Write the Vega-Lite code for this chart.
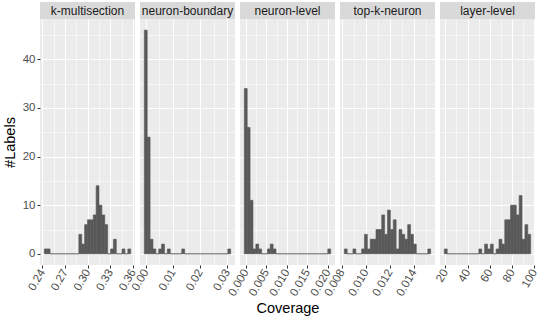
{
  "$schema": "https://vega.github.io/schema/vega-lite/v6.json",
  "padding": {"left": 2, "top": 2, "right": 1, "bottom": 2},
  "datasets": {
    "bins": [
      {"p":"k-multisection","a":0.2426,"b":0.24641,"n":1},
      {"p":"k-multisection","a":0.24641,"b":0.25021,"n":1},
      {"p":"k-multisection","a":0.25021,"b":0.25402,"n":0},
      {"p":"k-multisection","a":0.25402,"b":0.25783,"n":0},
      {"p":"k-multisection","a":0.25783,"b":0.26163,"n":0},
      {"p":"k-multisection","a":0.26163,"b":0.26544,"n":0},
      {"p":"k-multisection","a":0.26544,"b":0.26925,"n":0},
      {"p":"k-multisection","a":0.26925,"b":0.27305,"n":0},
      {"p":"k-multisection","a":0.27305,"b":0.27686,"n":0},
      {"p":"k-multisection","a":0.27686,"b":0.28067,"n":0},
      {"p":"k-multisection","a":0.28067,"b":0.28447,"n":0},
      {"p":"k-multisection","a":0.28447,"b":0.28828,"n":0},
      {"p":"k-multisection","a":0.28828,"b":0.29209,"n":4},
      {"p":"k-multisection","a":0.29209,"b":0.29589,"n":2},
      {"p":"k-multisection","a":0.29589,"b":0.2997,"n":6},
      {"p":"k-multisection","a":0.2997,"b":0.30351,"n":7},
      {"p":"k-multisection","a":0.30351,"b":0.30731,"n":7},
      {"p":"k-multisection","a":0.30731,"b":0.31112,"n":8},
      {"p":"k-multisection","a":0.31112,"b":0.31493,"n":14},
      {"p":"k-multisection","a":0.31493,"b":0.31873,"n":10},
      {"p":"k-multisection","a":0.31873,"b":0.32254,"n":8},
      {"p":"k-multisection","a":0.32254,"b":0.32635,"n":6},
      {"p":"k-multisection","a":0.32635,"b":0.33015,"n":0},
      {"p":"k-multisection","a":0.33015,"b":0.33396,"n":1},
      {"p":"k-multisection","a":0.33396,"b":0.33777,"n":3},
      {"p":"k-multisection","a":0.33777,"b":0.34157,"n":0},
      {"p":"k-multisection","a":0.34157,"b":0.34538,"n":0},
      {"p":"k-multisection","a":0.34538,"b":0.34919,"n":1},
      {"p":"k-multisection","a":0.34919,"b":0.35299,"n":0},
      {"p":"k-multisection","a":0.35299,"b":0.3568,"n":1},

      {"p":"neuron-boundary","a":-0.00053,"b":0.000529,"n":46},
      {"p":"neuron-boundary","a":0.000529,"b":0.001588,"n":24},
      {"p":"neuron-boundary","a":0.001588,"b":0.002647,"n":3},
      {"p":"neuron-boundary","a":0.002647,"b":0.003706,"n":1},
      {"p":"neuron-boundary","a":0.003706,"b":0.004765,"n":0},
      {"p":"neuron-boundary","a":0.004765,"b":0.005824,"n":1},
      {"p":"neuron-boundary","a":0.005824,"b":0.006883,"n":2},
      {"p":"neuron-boundary","a":0.006883,"b":0.007942,"n":0},
      {"p":"neuron-boundary","a":0.007942,"b":0.009001,"n":1},
      {"p":"neuron-boundary","a":0.009001,"b":0.01006,"n":0},
      {"p":"neuron-boundary","a":0.01006,"b":0.011119,"n":0},
      {"p":"neuron-boundary","a":0.011119,"b":0.012178,"n":0},
      {"p":"neuron-boundary","a":0.012178,"b":0.013237,"n":0},
      {"p":"neuron-boundary","a":0.013237,"b":0.014296,"n":1},
      {"p":"neuron-boundary","a":0.014296,"b":0.015355,"n":0},
      {"p":"neuron-boundary","a":0.015355,"b":0.016414,"n":0},
      {"p":"neuron-boundary","a":0.016414,"b":0.017473,"n":0},
      {"p":"neuron-boundary","a":0.017473,"b":0.018532,"n":0},
      {"p":"neuron-boundary","a":0.018532,"b":0.019591,"n":0},
      {"p":"neuron-boundary","a":0.019591,"b":0.02065,"n":0},
      {"p":"neuron-boundary","a":0.02065,"b":0.021709,"n":0},
      {"p":"neuron-boundary","a":0.021709,"b":0.022768,"n":0},
      {"p":"neuron-boundary","a":0.022768,"b":0.023827,"n":0},
      {"p":"neuron-boundary","a":0.023827,"b":0.024886,"n":0},
      {"p":"neuron-boundary","a":0.024886,"b":0.025945,"n":0},
      {"p":"neuron-boundary","a":0.025945,"b":0.027004,"n":0},
      {"p":"neuron-boundary","a":0.027004,"b":0.028063,"n":0},
      {"p":"neuron-boundary","a":0.028063,"b":0.029122,"n":0},
      {"p":"neuron-boundary","a":0.029122,"b":0.030181,"n":0},
      {"p":"neuron-boundary","a":0.030181,"b":0.03124,"n":1},

      {"p":"neuron-level","a":-0.000351,"b":0.000351,"n":34},
      {"p":"neuron-level","a":0.000351,"b":0.001053,"n":26},
      {"p":"neuron-level","a":0.001053,"b":0.001755,"n":11},
      {"p":"neuron-level","a":0.001755,"b":0.002457,"n":1},
      {"p":"neuron-level","a":0.002457,"b":0.003159,"n":2},
      {"p":"neuron-level","a":0.003159,"b":0.003861,"n":1},
      {"p":"neuron-level","a":0.003861,"b":0.004563,"n":0},
      {"p":"neuron-level","a":0.004563,"b":0.005265,"n":0},
      {"p":"neuron-level","a":0.005265,"b":0.005967,"n":1},
      {"p":"neuron-level","a":0.005967,"b":0.006669,"n":2},
      {"p":"neuron-level","a":0.006669,"b":0.007371,"n":1},
      {"p":"neuron-level","a":0.007371,"b":0.008073,"n":0},
      {"p":"neuron-level","a":0.008073,"b":0.008775,"n":0},
      {"p":"neuron-level","a":0.008775,"b":0.009477,"n":0},
      {"p":"neuron-level","a":0.009477,"b":0.010179,"n":0},
      {"p":"neuron-level","a":0.010179,"b":0.010881,"n":0},
      {"p":"neuron-level","a":0.010881,"b":0.011583,"n":0},
      {"p":"neuron-level","a":0.011583,"b":0.012285,"n":0},
      {"p":"neuron-level","a":0.012285,"b":0.012987,"n":0},
      {"p":"neuron-level","a":0.012987,"b":0.013689,"n":0},
      {"p":"neuron-level","a":0.013689,"b":0.014391,"n":0},
      {"p":"neuron-level","a":0.014391,"b":0.015093,"n":0},
      {"p":"neuron-level","a":0.015093,"b":0.015795,"n":0},
      {"p":"neuron-level","a":0.015795,"b":0.016497,"n":0},
      {"p":"neuron-level","a":0.016497,"b":0.017199,"n":0},
      {"p":"neuron-level","a":0.017199,"b":0.017901,"n":0},
      {"p":"neuron-level","a":0.017901,"b":0.018603,"n":0},
      {"p":"neuron-level","a":0.018603,"b":0.019305,"n":0},
      {"p":"neuron-level","a":0.019305,"b":0.020007,"n":0},
      {"p":"neuron-level","a":0.020007,"b":0.020709,"n":1},

      {"p":"top-k-neuron","a":0.008215,"b":0.0084545,"n":1},
      {"p":"top-k-neuron","a":0.0084545,"b":0.008694,"n":0},
      {"p":"top-k-neuron","a":0.008694,"b":0.0089335,"n":0},
      {"p":"top-k-neuron","a":0.0089335,"b":0.009173,"n":1},
      {"p":"top-k-neuron","a":0.009173,"b":0.0094125,"n":0},
      {"p":"top-k-neuron","a":0.0094125,"b":0.009652,"n":0},
      {"p":"top-k-neuron","a":0.009652,"b":0.0098915,"n":1},
      {"p":"top-k-neuron","a":0.0098915,"b":0.010131,"n":4},
      {"p":"top-k-neuron","a":0.010131,"b":0.0103705,"n":1},
      {"p":"top-k-neuron","a":0.0103705,"b":0.01061,"n":3},
      {"p":"top-k-neuron","a":0.01061,"b":0.0108495,"n":3},
      {"p":"top-k-neuron","a":0.0108495,"b":0.011089,"n":5},
      {"p":"top-k-neuron","a":0.011089,"b":0.0113285,"n":5},
      {"p":"top-k-neuron","a":0.0113285,"b":0.011568,"n":8},
      {"p":"top-k-neuron","a":0.011568,"b":0.0118075,"n":4},
      {"p":"top-k-neuron","a":0.0118075,"b":0.012047,"n":9},
      {"p":"top-k-neuron","a":0.012047,"b":0.0122865,"n":5},
      {"p":"top-k-neuron","a":0.0122865,"b":0.012526,"n":7},
      {"p":"top-k-neuron","a":0.012526,"b":0.0127655,"n":1},
      {"p":"top-k-neuron","a":0.0127655,"b":0.013005,"n":5},
      {"p":"top-k-neuron","a":0.013005,"b":0.0132445,"n":4},
      {"p":"top-k-neuron","a":0.0132445,"b":0.013484,"n":3},
      {"p":"top-k-neuron","a":0.013484,"b":0.0137235,"n":6},
      {"p":"top-k-neuron","a":0.0137235,"b":0.013963,"n":4},
      {"p":"top-k-neuron","a":0.013963,"b":0.0142025,"n":2},
      {"p":"top-k-neuron","a":0.0142025,"b":0.014442,"n":0},
      {"p":"top-k-neuron","a":0.014442,"b":0.0146815,"n":0},
      {"p":"top-k-neuron","a":0.0146815,"b":0.014921,"n":0},
      {"p":"top-k-neuron","a":0.014921,"b":0.0151605,"n":0},
      {"p":"top-k-neuron","a":0.0151605,"b":0.0154,"n":1},

      {"p":"layer-level","a":19.12,"b":21.707,"n":1},
      {"p":"layer-level","a":21.707,"b":24.293,"n":0},
      {"p":"layer-level","a":24.293,"b":26.88,"n":0},
      {"p":"layer-level","a":26.88,"b":29.467,"n":0},
      {"p":"layer-level","a":29.467,"b":32.053,"n":0},
      {"p":"layer-level","a":32.053,"b":34.64,"n":0},
      {"p":"layer-level","a":34.64,"b":37.227,"n":0},
      {"p":"layer-level","a":37.227,"b":39.813,"n":0},
      {"p":"layer-level","a":39.813,"b":42.4,"n":0},
      {"p":"layer-level","a":42.4,"b":44.987,"n":0},
      {"p":"layer-level","a":44.987,"b":47.573,"n":0},
      {"p":"layer-level","a":47.573,"b":50.16,"n":0},
      {"p":"layer-level","a":50.16,"b":52.747,"n":1},
      {"p":"layer-level","a":52.747,"b":55.333,"n":0},
      {"p":"layer-level","a":55.333,"b":57.92,"n":2},
      {"p":"layer-level","a":57.92,"b":60.507,"n":1},
      {"p":"layer-level","a":60.507,"b":63.093,"n":2},
      {"p":"layer-level","a":63.093,"b":65.68,"n":0},
      {"p":"layer-level","a":65.68,"b":68.267,"n":1},
      {"p":"layer-level","a":68.267,"b":70.853,"n":3},
      {"p":"layer-level","a":70.853,"b":73.44,"n":2},
      {"p":"layer-level","a":73.44,"b":76.027,"n":7},
      {"p":"layer-level","a":76.027,"b":78.613,"n":7},
      {"p":"layer-level","a":78.613,"b":81.2,"n":10},
      {"p":"layer-level","a":81.2,"b":83.787,"n":10},
      {"p":"layer-level","a":83.787,"b":86.373,"n":8},
      {"p":"layer-level","a":86.373,"b":88.96,"n":12},
      {"p":"layer-level","a":88.96,"b":91.547,"n":3},
      {"p":"layer-level","a":91.547,"b":94.133,"n":6},
      {"p":"layer-level","a":94.133,"b":96.72,"n":4}
    ]
  },
  "config": {
    "font": "Liberation Sans",
    "view": {"stroke": null, "fill": "#EBEBEB"},
    "axis": {
      "domain": false,
      "gridColor": "#FFFFFF",
      "tickColor": "#333333",
      "tickSize": 3,
      "tickWidth": 1,
      "labelColor": "#4D4D4D",
      "labelFont": "Liberation Sans",
      "labelFontSize": 11.5,
      "labelPadding": 2,
      "labelOverlap": false,
      "labelFlush": false,
      "titleFont": "Liberation Sans",
      "titleFontSize": 14.5,
      "titleFontWeight": "normal",
      "titleColor": "#000000"
    },
    "axisX": {"labelAngle": -60, "labelAlign": "right", "labelBaseline": "middle"}
  },
  "bounds": "flush",
  "spacing": {"row": 0, "column": 5},
  "columns": 5,
  "concat": [
    {
      "width": 95, "height": 17,
      "view": {"fill": "#D9D9D9", "stroke": null},
      "data": {"values": [{"s": "k-multisection"}]},
      "mark": {"type": "text", "fontSize": 12, "color": "#1A1A1A", "font": "Liberation Sans"},
      "encoding": {"text": {"field": "s"}}
    },
    {
      "width": 95, "height": 17,
      "view": {"fill": "#D9D9D9", "stroke": null},
      "data": {"values": [{"s": "neuron-boundary"}]},
      "mark": {"type": "text", "fontSize": 12, "color": "#1A1A1A", "font": "Liberation Sans"},
      "encoding": {"text": {"field": "s"}}
    },
    {
      "width": 95, "height": 17,
      "view": {"fill": "#D9D9D9", "stroke": null},
      "data": {"values": [{"s": "neuron-level"}]},
      "mark": {"type": "text", "fontSize": 12, "color": "#1A1A1A", "font": "Liberation Sans"},
      "encoding": {"text": {"field": "s"}}
    },
    {
      "width": 95, "height": 17,
      "view": {"fill": "#D9D9D9", "stroke": null},
      "data": {"values": [{"s": "top-k-neuron"}]},
      "mark": {"type": "text", "fontSize": 12, "color": "#1A1A1A", "font": "Liberation Sans"},
      "encoding": {"text": {"field": "s"}}
    },
    {
      "width": 95, "height": 17,
      "view": {"fill": "#D9D9D9", "stroke": null},
      "data": {"values": [{"s": "layer-level"}]},
      "mark": {"type": "text", "fontSize": 12, "color": "#1A1A1A", "font": "Liberation Sans"},
      "encoding": {"text": {"field": "s"}}
    },
    {
      "width": 95, "height": 246,
      "data": {"name": "bins"},
      "transform": [{"filter": "datum.p === 'k-multisection'"}],
      "mark": {"type": "bar", "color": "#595959", "stroke": "#595959", "strokeWidth": 0.6},
      "encoding": {
        "x": {"field": "a", "type": "quantitative",
          "scale": {"domain": [0.2369, 0.3625], "nice": false, "zero": false},
          "axis": {"title": null, "format": ".2f",
            "values": [0.24, 0.255, 0.27, 0.285, 0.30, 0.315, 0.33, 0.345, 0.36],
            "labelExpr": "abs(datum.value/0.03 - round(datum.value/0.03)) < 0.01 ? datum.label : ''",
            "gridWidth": {"condition": {"test": "abs(datum.value/0.03 - round(datum.value/0.03)) < 0.01", "value": 1.1}, "value": 0.55},
            "tickOpacity": {"condition": {"test": "abs(datum.value/0.03 - round(datum.value/0.03)) < 0.01", "value": 1}, "value": 0}}},
        "x2": {"field": "b"},
        "y": {"field": "n", "type": "quantitative",
          "scale": {"domain": [-2.3, 48.3], "nice": false, "zero": false},
          "axis": {"title": "#Labels", "titlePadding": 5,
            "values": [0, 5, 10, 15, 20, 25, 30, 35, 40, 45],
            "labelExpr": "datum.value % 10 === 0 ? datum.label : ''",
            "gridWidth": {"condition": {"test": "datum.value % 10 === 0", "value": 1.1}, "value": 0.55},
            "tickOpacity": {"condition": {"test": "datum.value % 10 === 0", "value": 1}, "value": 0}}},
        "y2": {"datum": 0}
      }
    },
    {
      "width": 95, "height": 246,
      "data": {"name": "bins"},
      "transform": [{"filter": "datum.p === 'neuron-boundary'"}],
      "mark": {"type": "bar", "color": "#595959", "stroke": "#595959", "strokeWidth": 0.6},
      "encoding": {
        "x": {"field": "a", "type": "quantitative",
          "scale": {"domain": [-0.00212, 0.03283], "nice": false, "zero": false},
          "axis": {"title": null, "format": ".2f",
            "values": [0, 0.005, 0.01, 0.015, 0.02, 0.025, 0.03],
            "labelExpr": "abs(datum.value/0.01 - round(datum.value/0.01)) < 0.01 ? datum.label : ''",
            "gridWidth": {"condition": {"test": "abs(datum.value/0.01 - round(datum.value/0.01)) < 0.01", "value": 1.1}, "value": 0.55},
            "tickOpacity": {"condition": {"test": "abs(datum.value/0.01 - round(datum.value/0.01)) < 0.01", "value": 1}, "value": 0}}},
        "x2": {"field": "b"},
        "y": {"field": "n", "type": "quantitative",
          "scale": {"domain": [-2.3, 48.3], "nice": false, "zero": false},
          "axis": {"title": null, "labels": false, "ticks": false,
            "values": [0, 5, 10, 15, 20, 25, 30, 35, 40, 45],
            "gridWidth": {"condition": {"test": "datum.value % 10 === 0", "value": 1.1}, "value": 0.55}}},
        "y2": {"datum": 0}
      }
    },
    {
      "width": 95, "height": 246,
      "data": {"name": "bins"},
      "transform": [{"filter": "datum.p === 'neuron-level'"}],
      "mark": {"type": "bar", "color": "#595959", "stroke": "#595959", "strokeWidth": 0.6},
      "encoding": {
        "x": {"field": "a", "type": "quantitative",
          "scale": {"domain": [-0.001404, 0.021762], "nice": false, "zero": false},
          "axis": {"title": "Coverage", "titlePadding": 4, "format": ".3f",
            "values": [0, 0.0025, 0.005, 0.0075, 0.01, 0.0125, 0.015, 0.0175, 0.02],
            "labelExpr": "abs(datum.value/0.005 - round(datum.value/0.005)) < 0.01 ? datum.label : ''",
            "gridWidth": {"condition": {"test": "abs(datum.value/0.005 - round(datum.value/0.005)) < 0.01", "value": 1.1}, "value": 0.55},
            "tickOpacity": {"condition": {"test": "abs(datum.value/0.005 - round(datum.value/0.005)) < 0.01", "value": 1}, "value": 0}}},
        "x2": {"field": "b"},
        "y": {"field": "n", "type": "quantitative",
          "scale": {"domain": [-2.3, 48.3], "nice": false, "zero": false},
          "axis": {"title": null, "labels": false, "ticks": false,
            "values": [0, 5, 10, 15, 20, 25, 30, 35, 40, 45],
            "gridWidth": {"condition": {"test": "datum.value % 10 === 0", "value": 1.1}, "value": 0.55}}},
        "y2": {"datum": 0}
      }
    },
    {
      "width": 95, "height": 246,
      "data": {"name": "bins"},
      "transform": [{"filter": "datum.p === 'top-k-neuron'"}],
      "mark": {"type": "bar", "color": "#595959", "stroke": "#595959", "strokeWidth": 0.6},
      "encoding": {
        "x": {"field": "a", "type": "quantitative",
          "scale": {"domain": [0.007856, 0.015759], "nice": false, "zero": false},
          "axis": {"title": null, "format": ".3f",
            "values": [0.008, 0.009, 0.01, 0.011, 0.012, 0.013, 0.014, 0.015],
            "labelExpr": "abs(datum.value/0.002 - round(datum.value/0.002)) < 0.01 ? datum.label : ''",
            "gridWidth": {"condition": {"test": "abs(datum.value/0.002 - round(datum.value/0.002)) < 0.01", "value": 1.1}, "value": 0.55},
            "tickOpacity": {"condition": {"test": "abs(datum.value/0.002 - round(datum.value/0.002)) < 0.01", "value": 1}, "value": 0}}},
        "x2": {"field": "b"},
        "y": {"field": "n", "type": "quantitative",
          "scale": {"domain": [-2.3, 48.3], "nice": false, "zero": false},
          "axis": {"title": null, "labels": false, "ticks": false,
            "values": [0, 5, 10, 15, 20, 25, 30, 35, 40, 45],
            "gridWidth": {"condition": {"test": "datum.value % 10 === 0", "value": 1.1}, "value": 0.55}}},
        "y2": {"datum": 0}
      }
    },
    {
      "width": 95, "height": 246,
      "data": {"name": "bins"},
      "transform": [{"filter": "datum.p === 'layer-level'"}],
      "mark": {"type": "bar", "color": "#595959", "stroke": "#595959", "strokeWidth": 0.6},
      "encoding": {
        "x": {"field": "a", "type": "quantitative",
          "scale": {"domain": [15.24, 100.6], "nice": false, "zero": false},
          "axis": {"title": null, "format": "d",
            "values": [20, 30, 40, 50, 60, 70, 80, 90, 100],
            "labelExpr": "datum.value % 20 === 0 ? datum.label : ''",
            "gridWidth": {"condition": {"test": "datum.value % 20 === 0", "value": 1.1}, "value": 0.55},
            "tickOpacity": {"condition": {"test": "datum.value % 20 === 0", "value": 1}, "value": 0}}},
        "x2": {"field": "b"},
        "y": {"field": "n", "type": "quantitative",
          "scale": {"domain": [-2.3, 48.3], "nice": false, "zero": false},
          "axis": {"title": null, "labels": false, "ticks": false,
            "values": [0, 5, 10, 15, 20, 25, 30, 35, 40, 45],
            "gridWidth": {"condition": {"test": "datum.value % 10 === 0", "value": 1.1}, "value": 0.55}}},
        "y2": {"datum": 0}
      }
    }
  ]
}
